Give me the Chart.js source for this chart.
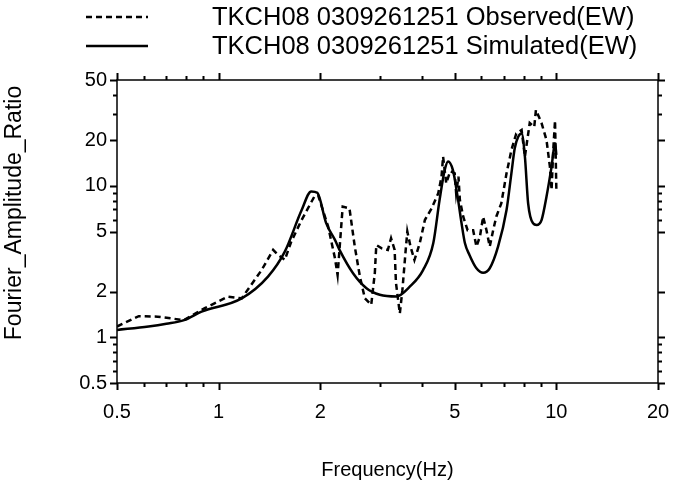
<!DOCTYPE html>
<html>
<head>
<meta charset="utf-8">
<script src="https://cdn.jsdelivr.net/npm/chart.js@4/dist/chart.umd.min.js"></script>
<style>
    body { margin: 0; background: #fff; }
    canvas { display: block; }
</style>
</head>
<body>
<canvas id="ratioChart" width="673" height="488"></canvas>
<script>
// Observed spectral ratio (dashed)
const obsFreq = [0.5, 0.58, 0.66, 0.79, 0.91, 1.065, 1.17, 1.34, 1.45, 1.5, 1.57, 1.64, 1.76, 1.92, 1.97,
    2.11, 2.21, 2.25, 2.33, 2.44, 2.53, 2.62, 2.71, 2.83, 2.9, 2.93, 3.04, 3.17, 3.24, 3.32, 3.35, 3.44,
    3.5, 3.58, 3.62, 3.7, 3.8, 3.94, 4.08, 4.27, 4.47, 4.57, 4.62, 4.72, 4.85, 5.0, 5.05, 5.13, 5.18,
    5.3, 5.46, 5.67, 5.8, 5.94, 6.07, 6.21, 6.35, 6.5, 6.64, 6.87, 7.12, 7.36, 7.61, 7.89, 8.07, 8.34,
    8.6, 8.7, 9.04, 9.35, 9.57, 9.68, 9.79, 9.91, 10.0];
const obsAmp = [1.18, 1.38, 1.37, 1.3, 1.56, 1.86, 1.81, 2.78, 3.78, 3.5, 3.25, 4.28, 5.95, 8.5, 8.7,
    5.38, 3.33, 2.58, 7.3, 7.1, 3.97, 2.52, 1.81, 1.64, 2.65, 4.07, 3.87, 3.78, 4.51, 3.78, 2.29, 1.44,
    2.05, 3.78, 5.0, 3.97, 3.24, 4.18, 5.95, 7.1, 8.94, 11.5, 15.6, 10.4, 12.5, 12.1, 8.94, 11.5, 8.07,
    6.26, 5.1, 5.1, 3.97, 4.64, 6.26, 5.1, 3.97, 5.1, 6.26, 7.67, 12.1, 17.2, 22.2, 23.4, 15.6, 26.0,
    24.5, 31.7, 26.0, 20.1, 13.4, 9.4, 17.2, 27.0, 9.5];

// Simulated spectral ratio (solid)
const simFreq = [0.5, 0.62, 0.7, 0.79, 0.89, 1.17, 1.4, 1.57, 1.76, 1.88, 1.96, 2.08, 2.21, 2.28, 2.5,
    2.74, 3.0, 3.36, 3.68, 4.03, 4.32, 4.51, 4.67, 4.78, 4.94, 5.1, 5.24, 5.36, 5.53, 5.8, 6.07, 6.35,
    6.72, 7.12, 7.36, 7.53, 7.71, 7.89, 8.07, 8.25, 8.53, 8.74, 9.04, 9.35, 9.68, 9.91, 10.0];
const simAmp = [1.12, 1.18, 1.23, 1.3, 1.48, 1.81, 2.52, 3.68, 6.9, 9.2, 9.0, 5.7, 4.4, 3.78, 2.65,
    2.11, 1.91, 1.86, 2.16, 2.78, 4.18, 8.07, 12.7, 14.5, 12.7, 8.5, 5.66, 4.2, 3.5, 2.86, 2.67, 2.86,
    3.97, 6.93, 12.1, 17.7, 21.1, 22.2, 15.6, 7.67, 5.66, 5.52, 5.95, 8.49, 13.4, 19.1, 16.0];

// Axis ticks
const xTickVals = [0.5, 0.6, 0.7, 0.8, 0.9, 1, 2, 3, 4, 5, 6, 7, 8, 9, 10, 20];
const xLabelVals = [0.5, 1, 2, 5, 10, 20];
const yTickVals = [0.5, 0.6, 0.7, 0.8, 0.9, 1, 2, 5, 6, 7, 8, 9, 10, 20, 30, 40, 50];
const yLabelVals = [0.5, 1, 2, 5, 10, 20, 50];

const seriesNames = ['TKCH08 0309261251 Observed(EW)', 'TKCH08 0309261251 Simulated(EW)'];
const FAMILY = '"Liberation Sans", Arial, sans-serif';

const toPoints = (xs, ys) => xs.map((x, i) => ({ x: x, y: ys[i] }));

// Frame, outward tick marks, axis titles and legend
const framePlugin = {
    id: 'frame',
    afterDraw(chart) {
        const ctx = chart.ctx;
        const { left, right, top, bottom } = chart.chartArea;
        const xs = chart.scales.x;
        const ys = chart.scales.y;

        ctx.save();
        ctx.strokeStyle = '#000';
        ctx.lineWidth = 1.5;
        ctx.strokeRect(left, top, right - left, bottom - top);

        ctx.beginPath();
        xTickVals.forEach(v => {
            const px = Math.round(xs.getPixelForValue(v)) + 0.5;
            const len = xLabelVals.includes(v) ? 7 : 4;
            ctx.moveTo(px, bottom); ctx.lineTo(px, bottom + len);
            ctx.moveTo(px, top); ctx.lineTo(px, top - len);
        });
        yTickVals.forEach(v => {
            const py = Math.round(ys.getPixelForValue(v)) + 0.5;
            const len = yLabelVals.includes(v) ? 7 : 4;
            ctx.moveTo(left, py); ctx.lineTo(left - len, py);
            ctx.moveTo(right, py); ctx.lineTo(right + len, py);
        });
        ctx.lineWidth = 2;
        ctx.stroke();

        // axis titles
        ctx.fillStyle = '#000';
        ctx.textAlign = 'center';
        ctx.textBaseline = 'middle';
        ctx.font = '20px ' + FAMILY;
        ctx.fillText('Frequency(Hz)', (left + right) / 2, 470);
        ctx.save();
        ctx.translate(15, 213);
        ctx.rotate(-Math.PI / 2);
        ctx.font = '23px ' + FAMILY;
        ctx.fillText('Fourier_Amplitude_Ratio', 0, 0);
        ctx.restore();

        // legend
        const rows = [17, 46];
        ctx.font = '25.5px ' + FAMILY;
        chart.data.datasets.forEach((ds, i) => {
            ctx.beginPath();
            ctx.setLineDash(ds.borderDash || []);
            ctx.lineWidth = ds.borderWidth;
            ctx.moveTo(86, rows[i]);
            ctx.lineTo(148, rows[i]);
            ctx.stroke();
            ctx.setLineDash([]);
            ctx.textAlign = 'left';
            ctx.fillText(seriesNames[i], 212, rows[i] + 1);
        });
        ctx.restore();
    }
};

const chart = new Chart(document.getElementById('ratioChart'), {
    type: 'scatter',
    data: {
        datasets: [
            {
                label: seriesNames[0],
                data: toPoints(obsFreq, obsAmp),
                showLine: true,
                borderColor: '#000',
                borderWidth: 2.5,
                borderDash: [6, 4],
                pointRadius: 0,
                tension: 0
            },
            {
                label: seriesNames[1],
                data: toPoints(simFreq, simAmp),
                showLine: true,
                borderColor: '#000',
                borderWidth: 2.5,
                pointRadius: 0,
                cubicInterpolationMode: 'monotone'
            }
        ]
    },
    options: {
        responsive: false,
        animation: false,
        layout: { padding: { top: 80, right: 15, left: 0, bottom: 0 } },
        plugins: {
            legend: { display: false },
            tooltip: { enabled: false }
        },
        scales: {
            x: {
                type: 'logarithmic',
                min: 0.5,
                max: 20,
                afterBuildTicks: axis => {
                    axis.ticks = xTickVals.map(v => ({ value: v }));
                },
                afterFit: axis => {
                    axis.height = 105;
                    axis.paddingLeft = 0;
                    axis.paddingRight = 0;
                },
                grid: { display: false, drawTicks: false },
                border: { display: false },
                ticks: {
                    autoSkip: false,
                    maxRotation: 0,
                    padding: 17,
                    color: '#000',
                    font: { family: FAMILY, size: 20 },
                    callback: v => xLabelVals.includes(v) ? String(v) : ''
                }
            },
            y: {
                type: 'logarithmic',
                min: 0.5,
                max: 50,
                afterBuildTicks: axis => {
                    axis.ticks = yTickVals.map(v => ({ value: v }));
                },
                afterFit: axis => { axis.width = 117; },
                grid: { display: false, drawTicks: false },
                border: { display: false },
                ticks: {
                    autoSkip: false,
                    padding: 10,
                    color: '#000',
                    font: { family: FAMILY, size: 20 },
                    callback: v => yLabelVals.includes(v) ? String(v) : ''
                }
            }
        }
    },
    plugins: [framePlugin]
});
</script>
</body>
</html>
